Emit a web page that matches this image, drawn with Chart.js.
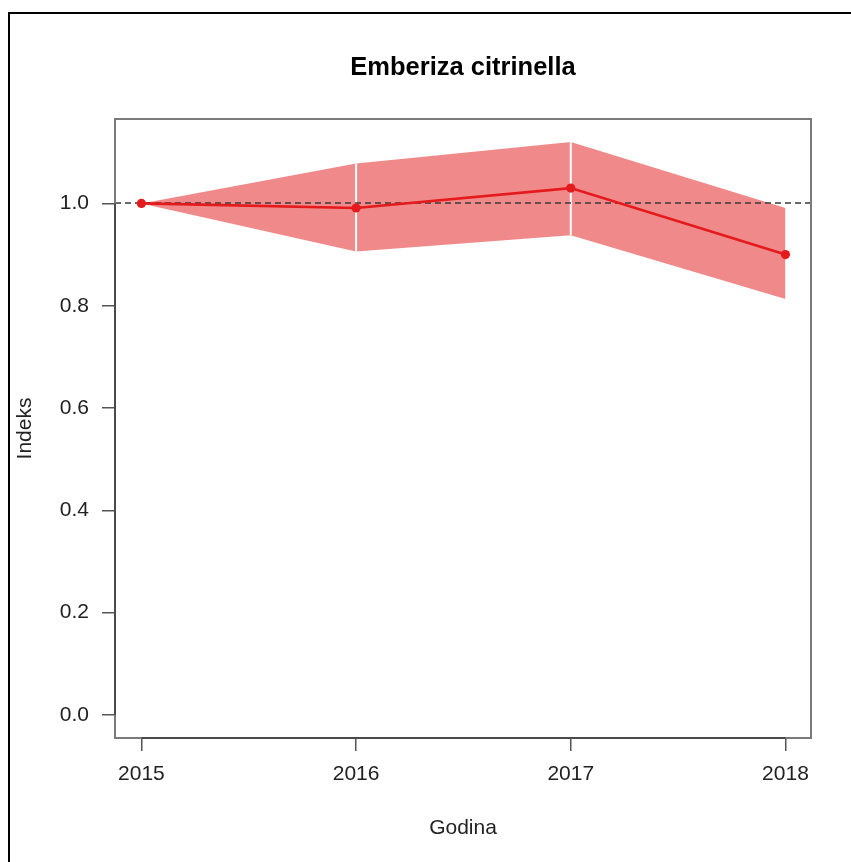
<!DOCTYPE html>
<html>
<head>
<meta charset="utf-8">
<script src="https://cdn.jsdelivr.net/npm/chart.js@4.4.1/dist/chart.umd.min.js"></script>
<style>
  html, body { margin: 0; padding: 0; background: #ffffff; }
  canvas { display: block; }
</style>
</head>
<body>
<canvas id="chart" width="851" height="862"></canvas>
<script>
// Yearly population index with its confidence band
const years = [2015, 2016, 2017, 2018];
const indexValues = [1.000, 0.991, 1.030, 0.900];
const lowerBound = [1.000, 0.906, 0.938, 0.813];
const upperBound = [1.000, 1.078, 1.120, 0.991];
const yTickValues = [0.0, 0.2, 0.4, 0.6, 0.8, 1.0];
const referenceLevel = 1.0;
const titleText = 'Emberiza citrinella';
const xTitleText = 'Godina';
const yTitleText = 'Indeks';

const FONT = "'Liberation Sans', Arial, Helvetica, sans-serif";
const LINE_RED = '#E41A1C';
const BAND_RED = 'rgb(240,138,138)';

const toPoints = (vals) => years.map((x, i) => ({ x: x, y: vals[i] }));

// white dividers between band segments at the inner years
const dividerSets = years.slice(1, -1).map((yr) => {
  const i = years.indexOf(yr);
  return {
    data: [{ x: yr, y: lowerBound[i] }, { x: yr, y: upperBound[i] }],
    borderColor: '#ffffff',
    borderWidth: 2,
    pointRadius: 0,
    fill: false,
    order: 1
  };
});

// draws the dashed reference line just before the index line
const referenceLine = {
  id: 'referenceLine',
  beforeDatasetDraw(chart, args) {
    if (args.index !== 0) return;
    const { ctx, chartArea, scales } = chart;
    const y = Math.round(scales.y.getPixelForValue(referenceLevel));
    ctx.save();
    ctx.strokeStyle = '#3a3a3a';
    ctx.lineWidth = 1.6;
    ctx.setLineDash([6, 4]);
    ctx.beginPath();
    ctx.moveTo(chartArea.left, y);
    ctx.lineTo(chartArea.right, y);
    ctx.stroke();
    ctx.restore();
  }
};

// plot box, axis lines and the outer frame
const frame = {
  id: 'frame',
  beforeDraw(chart) {
    const { ctx, width, height } = chart;
    ctx.save();
    ctx.fillStyle = '#ffffff';
    ctx.fillRect(0, 0, width, height);
    ctx.restore();
  },
  afterDraw(chart) {
    const { ctx, chartArea, scales, width, height } = chart;
    const l = Math.round(chartArea.left), r = Math.round(chartArea.right);
    const t = Math.round(chartArea.top), b = Math.round(chartArea.bottom);
    ctx.save();
    ctx.strokeStyle = '#7a7a7a';
    ctx.lineWidth = 2;
    ctx.strokeRect(l, t, r - l, b - t);
    // axis lines spanning the ticks
    ctx.strokeStyle = '#4a4a4a';
    ctx.beginPath();
    ctx.moveTo(l, scales.y.getPixelForValue(yTickValues[0]));
    ctx.lineTo(l, scales.y.getPixelForValue(yTickValues[yTickValues.length - 1]));
    ctx.moveTo(scales.x.getPixelForValue(years[0]), b);
    ctx.lineTo(scales.x.getPixelForValue(years[years.length - 1]), b);
    ctx.stroke();
    // outer frame
    ctx.strokeStyle = '#000000';
    ctx.lineWidth = 2;
    ctx.beginPath();
    ctx.moveTo(9, height);
    ctx.lineTo(9, 13);
    ctx.lineTo(width, 13);
    ctx.stroke();
    ctx.restore();
  }
};

new Chart(document.getElementById('chart'), {
  type: 'line',
  data: {
    datasets: [
      {
        data: toPoints(indexValues),
        borderColor: LINE_RED,
        backgroundColor: LINE_RED,
        borderWidth: 2.7,
        pointRadius: 4.6,
        pointBackgroundColor: LINE_RED,
        pointBorderWidth: 0,
        fill: false,
        tension: 0,
        order: 0
      },
      ...dividerSets,
      {
        data: toPoints(lowerBound),
        borderColor: 'rgba(0,0,0,0)',
        borderWidth: 0,
        pointRadius: 0,
        fill: false,
        order: 2
      },
      {
        data: toPoints(upperBound),
        borderColor: 'rgba(0,0,0,0)',
        backgroundColor: BAND_RED,
        borderWidth: 0,
        pointRadius: 0,
        fill: '-1',
        order: 2
      }
    ]
  },
  options: {
    responsive: false,
    animation: false,
    devicePixelRatio: 1,
    layout: { padding: { left: 0, right: 40, top: 0, bottom: 0 } },
    plugins: {
      legend: { display: false },
      tooltip: { enabled: false },
      title: {
        display: true,
        text: titleText,
        fullSize: false,
        color: '#000000',
        font: { family: FONT, size: 25.5, weight: 'bold', lineHeight: 1.2 },
        padding: { top: 53, bottom: 35.4 }
      }
    },
    scales: {
      x: {
        type: 'linear',
        min: 2014.877,
        max: 2018.119,
        afterBuildTicks: (s) => { s.ticks = years.map((v) => ({ value: v })); },
        afterFit: (s) => { s.height = 124; },
        ticks: {
          padding: 11,
          color: '#222222',
          font: { family: FONT, size: 21 },
          maxRotation: 0,
          callback: (v) => String(v)
        },
        grid: { drawOnChartArea: false, drawTicks: true, tickLength: 13, color: '#555555', lineWidth: 1.5 },
        border: { display: false },
        title: {
          display: true,
          text: xTitleText,
          color: '#222222',
          font: { family: FONT, size: 21 },
          padding: { top: 0, bottom: 21 }
        }
      },
      y: {
        type: 'linear',
        min: -0.045,
        max: 1.165,
        afterBuildTicks: (s) => { s.ticks = yTickValues.map((v) => ({ value: v })); },
        afterFit: (s) => { s.width = 115; },
        ticks: {
          padding: 13,
          color: '#222222',
          font: { family: FONT, size: 21 },
          callback: (v) => Number(v).toFixed(1)
        },
        grid: { drawOnChartArea: false, drawTicks: true, tickLength: 13, color: '#555555', lineWidth: 1.5 },
        border: { display: false },
        title: {
          display: true,
          text: yTitleText,
          color: '#222222',
          font: { family: FONT, size: 21 },
          padding: { top: 13, bottom: 0 }
        }
      }
    }
  },
  plugins: [frame, referenceLine]
});
</script>
</body>
</html>
